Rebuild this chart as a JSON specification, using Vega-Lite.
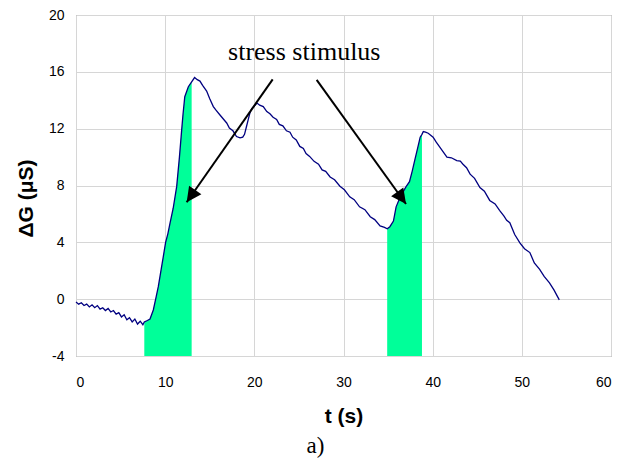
{
  "$schema": "https://vega.github.io/schema/vega-lite/v6.json",
  "width": 535,
  "height": 341,
  "autosize": {"type": "none"},
  "padding": {"left": 76, "top": 15, "right": 21, "bottom": 104},
  "background": "white",
  "config": {
    "view": {"stroke": "#808080", "strokeWidth": 1},
    "axis": {
      "labelFont": "Liberation Sans",
      "labelFontSize": 14,
      "labelColor": "black",
      "titleFont": "Liberation Sans",
      "titleFontWeight": "bold",
      "titleColor": "black",
      "gridColor": "#d6d6d6",
      "gridWidth": 1,
      "ticks": false,
      "domain": false
    }
  },
  "title": {
    "text": "a)",
    "orient": "bottom",
    "anchor": "middle",
    "font": "Liberation Serif",
    "fontSize": 23,
    "fontWeight": "normal",
    "color": "black",
    "dx": -28,
    "offset": 9
  },
  "datasets": {
    "curve": [
      {"t": 0, "g": -0.2}, {"t": 0.3, "g": -0.35}, {"t": 0.6, "g": -0.25}, {"t": 0.9, "g": -0.45},
      {"t": 1.2, "g": -0.35}, {"t": 1.5, "g": -0.55}, {"t": 1.8, "g": -0.4}, {"t": 2.1, "g": -0.6},
      {"t": 2.4, "g": -0.45}, {"t": 2.7, "g": -0.7}, {"t": 3.0, "g": -0.6}, {"t": 3.3, "g": -0.8},
      {"t": 3.6, "g": -0.65}, {"t": 3.9, "g": -0.9}, {"t": 4.2, "g": -0.8}, {"t": 4.5, "g": -1.05},
      {"t": 4.8, "g": -0.95}, {"t": 5.1, "g": -1.25}, {"t": 5.4, "g": -1.1}, {"t": 5.7, "g": -1.45},
      {"t": 6.0, "g": -1.3}, {"t": 6.3, "g": -1.6}, {"t": 6.6, "g": -1.4}, {"t": 6.9, "g": -1.75},
      {"t": 7.2, "g": -1.55}, {"t": 7.5, "g": -1.8},
      {"t": 7.66, "g": -1.6, "s": 1}, {"t": 8.0, "g": -1.5, "s": 1}, {"t": 8.3, "g": -1.4, "s": 1},
      {"t": 8.67, "g": -0.76, "s": 1}, {"t": 9.0, "g": 0.2, "s": 1}, {"t": 9.23, "g": 0.88, "s": 1},
      {"t": 9.5, "g": 1.9, "s": 1}, {"t": 9.79, "g": 2.99, "s": 1}, {"t": 10.05, "g": 4.0, "s": 1},
      {"t": 10.3, "g": 4.6, "s": 1}, {"t": 10.54, "g": 5.34, "s": 1}, {"t": 10.9, "g": 6.4, "s": 1},
      {"t": 11.29, "g": 7.92, "s": 1}, {"t": 11.6, "g": 10.0, "s": 1}, {"t": 11.85, "g": 11.9, "s": 1},
      {"t": 12.0, "g": 13.0, "s": 1}, {"t": 12.2, "g": 14.25, "s": 1}, {"t": 12.6, "g": 14.95, "s": 1},
      {"t": 12.97, "g": 15.3, "s": 1},
      {"t": 13.3, "g": 15.6}, {"t": 13.6, "g": 15.45}, {"t": 13.9, "g": 15.35}, {"t": 14.2, "g": 15.05},
      {"t": 14.65, "g": 14.65}, {"t": 15.0, "g": 14.1}, {"t": 15.4, "g": 13.55}, {"t": 15.7, "g": 13.3},
      {"t": 16.1, "g": 13.0}, {"t": 16.5, "g": 12.7}, {"t": 16.9, "g": 12.4}, {"t": 17.2, "g": 12.05},
      {"t": 17.6, "g": 11.85}, {"t": 18.0, "g": 11.45}, {"t": 18.4, "g": 11.35}, {"t": 18.7, "g": 11.4},
      {"t": 18.9, "g": 11.6}, {"t": 19.1, "g": 12.1}, {"t": 19.3, "g": 12.6}, {"t": 19.5, "g": 13.1},
      {"t": 19.7, "g": 13.4}, {"t": 20.0, "g": 13.6}, {"t": 20.3, "g": 13.8}, {"t": 20.6, "g": 13.65},
      {"t": 21.0, "g": 13.55}, {"t": 21.4, "g": 13.2}, {"t": 21.75, "g": 13.05}, {"t": 22.1, "g": 12.8},
      {"t": 22.5, "g": 12.65}, {"t": 22.8, "g": 12.3}, {"t": 23.2, "g": 12.2}, {"t": 23.6, "g": 11.85},
      {"t": 24.0, "g": 11.75}, {"t": 24.3, "g": 11.4}, {"t": 24.7, "g": 11.2}, {"t": 25.1, "g": 10.75},
      {"t": 25.5, "g": 10.6}, {"t": 25.8, "g": 10.25}, {"t": 26.2, "g": 10.05}, {"t": 26.7, "g": 9.7},
      {"t": 27.2, "g": 9.5}, {"t": 27.6, "g": 9.1}, {"t": 28.0, "g": 9.0}, {"t": 28.5, "g": 8.6},
      {"t": 29.0, "g": 8.4}, {"t": 29.6, "g": 7.95}, {"t": 30.1, "g": 7.7}, {"t": 30.7, "g": 7.2},
      {"t": 31.2, "g": 7.0}, {"t": 31.8, "g": 6.5}, {"t": 32.4, "g": 6.3}, {"t": 33.0, "g": 5.8},
      {"t": 33.5, "g": 5.6}, {"t": 34.1, "g": 5.15}, {"t": 34.6, "g": 5.05},
      {"t": 34.9, "g": 4.95, "s": 2}, {"t": 35.2, "g": 5.1, "s": 2}, {"t": 35.6, "g": 5.5, "s": 2},
      {"t": 35.9, "g": 6.5, "s": 2}, {"t": 36.3, "g": 7.1, "s": 2}, {"t": 36.7, "g": 7.57, "s": 2},
      {"t": 37.0, "g": 7.9, "s": 2}, {"t": 37.4, "g": 8.27, "s": 2}, {"t": 37.7, "g": 9.0, "s": 2},
      {"t": 38.0, "g": 9.8, "s": 2}, {"t": 38.3, "g": 10.6, "s": 2}, {"t": 38.6, "g": 11.4, "s": 2},
      {"t": 38.8, "g": 11.6, "s": 2},
      {"t": 38.95, "g": 11.8}, {"t": 39.2, "g": 11.75}, {"t": 39.5, "g": 11.68}, {"t": 40.05, "g": 11.4},
      {"t": 40.4, "g": 11.05}, {"t": 40.8, "g": 10.7}, {"t": 41.2, "g": 10.35}, {"t": 41.6, "g": 10.0},
      {"t": 42.1, "g": 9.95}, {"t": 42.7, "g": 9.75}, {"t": 43.1, "g": 9.72}, {"t": 43.4, "g": 9.5},
      {"t": 43.8, "g": 9.25}, {"t": 44.2, "g": 8.8}, {"t": 44.7, "g": 8.5}, {"t": 45.3, "g": 7.85},
      {"t": 45.8, "g": 7.6}, {"t": 46.4, "g": 6.95}, {"t": 47.0, "g": 6.7}, {"t": 47.5, "g": 6.25},
      {"t": 48.0, "g": 5.85}, {"t": 48.3, "g": 5.55}, {"t": 48.65, "g": 5.38}, {"t": 49.2, "g": 4.55},
      {"t": 49.8, "g": 3.95}, {"t": 50.3, "g": 3.55}, {"t": 50.9, "g": 3.28}, {"t": 51.4, "g": 2.55},
      {"t": 52.0, "g": 2.1}, {"t": 52.5, "g": 1.6}, {"t": 53.1, "g": 1.15}, {"t": 53.6, "g": 0.65},
      {"t": 54.2, "g": -0.05}
    ],
    "arrows": [
      {"t1": 22.06, "g1": 15.47, "t2": 12.41, "g2": 6.82, "ang": 214.9},
      {"t1": 26.99, "g1": 15.43, "t2": 37.01, "g2": 6.70, "ang": 144.2}
    ],
    "label": [
      {"t": 25.6, "g": 16.83, "text": "stress stimulus"}
    ]
  },
  "layer": [
    {
      "data": {"name": "curve"},
      "transform": [{"filter": "datum.s != null"}],
      "mark": {"type": "area", "color": "#00ff99", "opacity": 1, "interpolate": "linear"},
      "encoding": {
        "x": {
          "field": "t", "type": "quantitative",
          "scale": {"domain": [0, 60], "nice": false, "zero": false},
          "axis": {
            "values": [0, 10, 20, 30, 40, 50, 60],
            "title": "t (s)",
            "titleFontSize": 21,
            "labelPadding": 19,
            "titleBaseline": "alphabetic",
            "titleY": 66,
            "grid": true
          }
        },
        "y": {
          "field": "g", "type": "quantitative",
          "scale": {"domain": [-4, 20], "nice": false, "zero": false},
          "axis": {
            "values": [-4, 0, 4, 8, 12, 16, 20],
            "labelExpr": "replace(datum.label, '−', '-')",
            "title": "ΔG (μS)",
            "titleFontSize": 21,
            "labelPadding": 12,
            "titleAngle": -90,
            "titleAlign": "center",
            "titleBaseline": "middle",
            "titleX": -50,
            "titleY": 183,
            "grid": true
          }
        },
        "y2": {"datum": -4},
        "detail": {"field": "s", "type": "nominal"}
      }
    },
    {
      "data": {"name": "curve"},
      "mark": {"type": "line", "color": "#000080", "strokeWidth": 1.3},
      "encoding": {
        "x": {"field": "t", "type": "quantitative"},
        "y": {"field": "g", "type": "quantitative"}
      }
    },
    {
      "data": {"name": "arrows"},
      "mark": {"type": "rule", "color": "black", "strokeWidth": 2},
      "encoding": {
        "x": {"field": "t1", "type": "quantitative"},
        "y": {"field": "g1", "type": "quantitative"},
        "x2": {"field": "t2"},
        "y2": {"field": "g2"}
      }
    },
    {
      "data": {"name": "arrows"},
      "mark": {"type": "point", "shape": "M0,0L-0.75,1.5L0.75,1.5Z", "filled": true, "color": "black", "opacity": 1, "size": 400, "strokeWidth": 0},
      "encoding": {
        "x": {"field": "t2", "type": "quantitative"},
        "y": {"field": "g2", "type": "quantitative"},
        "angle": {"field": "ang", "type": "quantitative", "scale": null}
      }
    },
    {
      "data": {"name": "label"},
      "mark": {"type": "text", "font": "Liberation Serif", "fontSize": 26, "color": "black", "align": "center", "baseline": "alphabetic"},
      "encoding": {
        "x": {"field": "t", "type": "quantitative"},
        "y": {"field": "g", "type": "quantitative"},
        "text": {"field": "text"}
      }
    }
  ]
}
